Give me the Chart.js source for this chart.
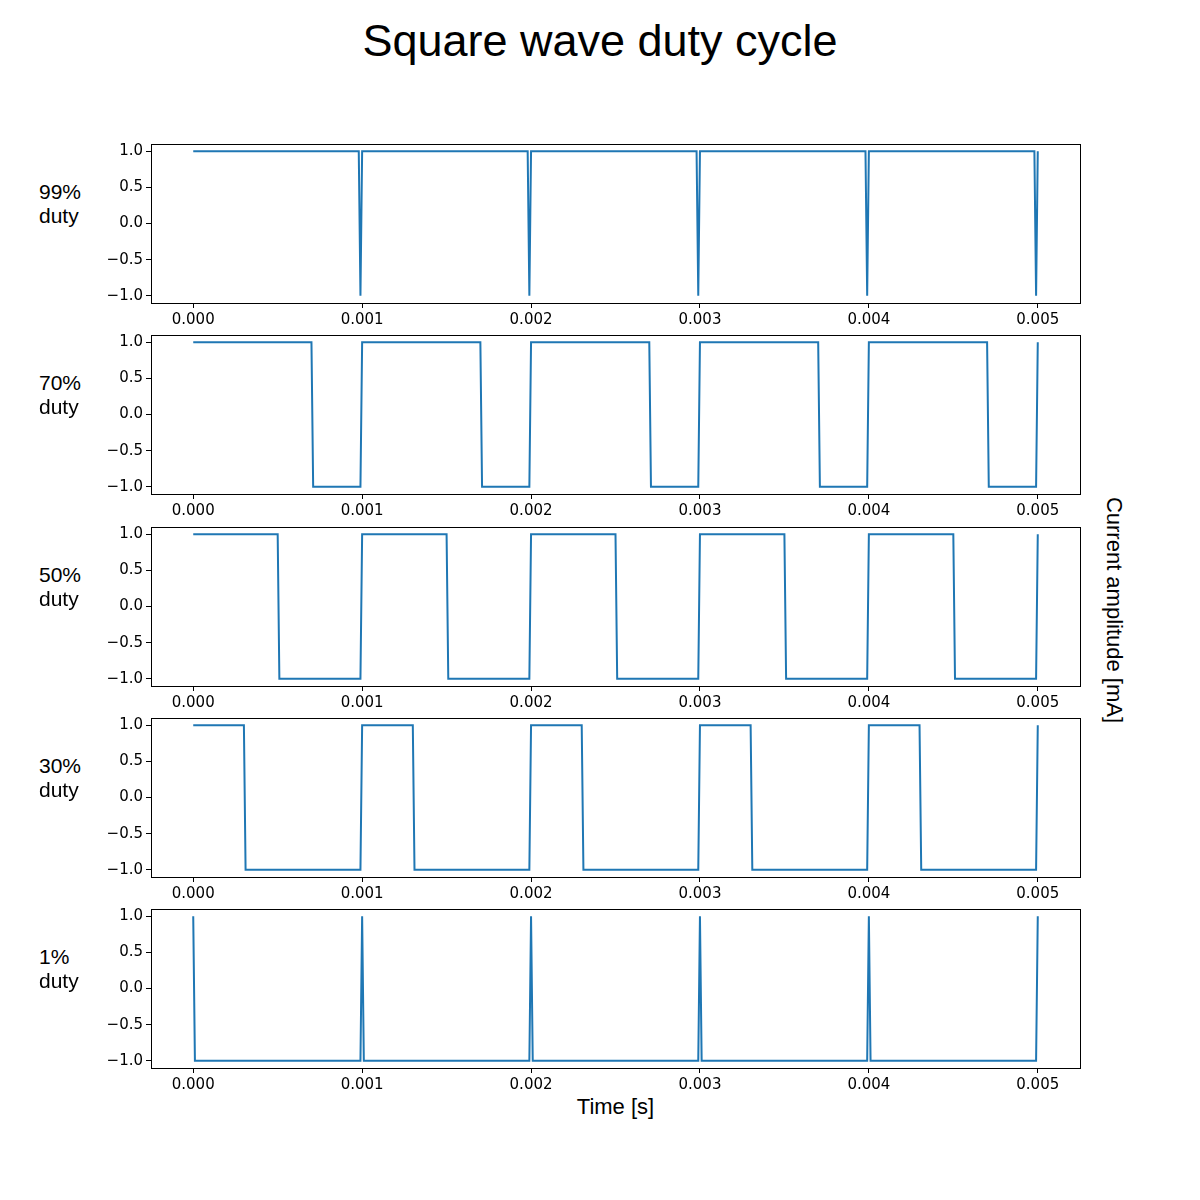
<!DOCTYPE html>
<html>
<head>
<meta charset="utf-8">
<script src="https://cdn.jsdelivr.net/npm/chart.js@4.4.1/dist/chart.umd.min.js"></script>
<style>
    body { margin: 0; background: #fff; }
    #page { position: relative; width: 1200px; height: 1200px; overflow: hidden; font-family: "Liberation Sans", Arial, sans-serif; color: #000; }
    #page canvas { position: absolute; left: 0; }
    .txt { position: absolute; white-space: nowrap; line-height: 1; }
</style>
</head>
<body>
<div id="page">
    <div class="txt" id="title" style="left:0;width:1200px;text-align:center;top:18px;font-size:45px;">Square wave duty cycle</div>
    <div class="txt" style="left:151px;width:929px;text-align:center;top:1096px;font-size:22px;">Time [s]</div>
    <div class="txt" style="left:1114px;top:610px;font-size:22px;transform:translate(-50%,-50%) rotate(90deg);">Current amplitude [mA]</div>
</div>
<script>
// time axis ticks and amplitude ticks
const timeTicks = [0, 0.001, 0.002, 0.003, 0.004, 0.005];
const ampTicks = [-1, -0.5, 0, 0.5, 1];

// panel labels, top to bottom
const dutyLabels = ['99%', '70%', '50%', '30%', '1%'];

// corner points of each trace (time in s, amplitude in mA)
const duty99Time = [0, 0.00098, 0.00099, 0.00100, 0.00198, 0.00199, 0.00200, 0.00298, 0.00299, 0.00300, 0.00398, 0.00399, 0.00400, 0.00498, 0.00499, 0.00500];
const duty99Amp  = [1, 1, -1, 1, 1, -1, 1, 1, -1, 1, 1, -1, 1, 1, -1, 1];

const duty70Time = [0, 0.00070, 0.00071, 0.00099, 0.00100, 0.00170, 0.00171, 0.00199, 0.00200, 0.00270, 0.00271, 0.00299, 0.00300, 0.00370, 0.00371, 0.00399, 0.00400, 0.00470, 0.00471, 0.00499, 0.00500];
const duty70Amp  = [1, 1, -1, -1, 1, 1, -1, -1, 1, 1, -1, -1, 1, 1, -1, -1, 1, 1, -1, -1, 1];

const duty50Time = [0, 0.00050, 0.00051, 0.00099, 0.00100, 0.00150, 0.00151, 0.00199, 0.00200, 0.00250, 0.00251, 0.00299, 0.00300, 0.00350, 0.00351, 0.00399, 0.00400, 0.00450, 0.00451, 0.00499, 0.00500];
const duty50Amp  = [1, 1, -1, -1, 1, 1, -1, -1, 1, 1, -1, -1, 1, 1, -1, -1, 1, 1, -1, -1, 1];

const duty30Time = [0, 0.00030, 0.00031, 0.00099, 0.00100, 0.00130, 0.00131, 0.00199, 0.00200, 0.00230, 0.00231, 0.00299, 0.00300, 0.00330, 0.00331, 0.00399, 0.00400, 0.00430, 0.00431, 0.00499, 0.00500];
const duty30Amp  = [1, 1, -1, -1, 1, 1, -1, -1, 1, 1, -1, -1, 1, 1, -1, -1, 1, 1, -1, -1, 1];

const duty01Time = [0, 0.00001, 0.00099, 0.00100, 0.00101, 0.00199, 0.00200, 0.00201, 0.00299, 0.00300, 0.00301, 0.00399, 0.00400, 0.00401, 0.00499, 0.00500];
const duty01Amp  = [1, -1, -1, 1, -1, -1, 1, -1, -1, 1, -1, -1, 1, -1, -1, 1];

const traces = [
    [duty99Time, duty99Amp],
    [duty70Time, duty70Amp],
    [duty50Time, duty50Amp],
    [duty30Time, duty30Amp],
    [duty01Time, duty01Amp]
];

const panelTops = [144, 335, 527, 718, 909];
const panelHeight = 159;
const padTop = 10;
const xAxisHeight = 40;

// matplotlib-style full frame around the plot area
const boxPlugin = {
    id: 'box',
    afterDraw(chart) {
        const a = chart.chartArea;
        const ctx = chart.ctx;
        ctx.save();
        ctx.strokeStyle = '#000';
        ctx.lineWidth = 1;
        ctx.strokeRect(Math.round(a.left) + 0.5, Math.round(a.top) + 0.5,
            Math.round(a.right - a.left), Math.round(a.bottom - a.top));
        ctx.restore();
    }
};

const fmt = (v, d) => (v < 0 ? '\u2212' : '') + Math.abs(v).toFixed(d);

const page = document.getElementById('page');

traces.forEach(([times, amps], i) => {
    const top = panelTops[i];

    const l1 = document.createElement('div');
    l1.className = 'txt';
    l1.style.cssText = `left:39px;top:${top + 48 - 11}px;font-size:21px;`;
    l1.textContent = dutyLabels[i];
    page.appendChild(l1);
    const l2 = document.createElement('div');
    l2.className = 'txt';
    l2.style.cssText = `left:39px;top:${top + 72 - 11}px;font-size:21px;`;
    l2.textContent = 'duty';
    page.appendChild(l2);

    const canvas = document.createElement('canvas');
    canvas.width = 1200;
    canvas.height = panelHeight + padTop + xAxisHeight;
    canvas.style.top = (top - padTop) + 'px';
    page.appendChild(canvas);

    new Chart(canvas, {
        type: 'line',
        data: {
            datasets: [{
                data: times.map((t, k) => ({ x: t, y: amps[k] })),
                borderColor: '#1f77b4',
                borderWidth: 2,
                pointRadius: 0,
                tension: 0,
                fill: false
            }]
        },
        options: {
            responsive: false,
            animation: false,
            devicePixelRatio: 1,
            layout: { padding: { left: 0, right: 120, top: padTop, bottom: 0 } },
            plugins: { legend: { display: false }, tooltip: { enabled: false } },
            scales: {
                x: {
                    type: 'linear',
                    min: -0.00025,
                    max: 0.00525,
                    afterBuildTicks: (s) => { s.ticks = timeTicks.map(v => ({ value: v })); },
                    afterFit: (s) => {
                        s.height = xAxisHeight;
                        s.paddingLeft = 0;
                        s.paddingRight = 0;
                    },
                    grid: { drawOnChartArea: false, drawTicks: true, tickLength: 5, color: '#000' },
                    border: { display: true, color: '#000' },
                    ticks: {
                        padding: 3,
                        maxRotation: 0,
                        autoSkip: false,
                        color: '#000',
                        font: { family: 'DejaVu Sans', size: 15 },
                        callback: (v) => fmt(v, 3)
                    }
                },
                y: {
                    min: -1.1,
                    max: 1.1,
                    afterBuildTicks: (s) => { s.ticks = ampTicks.map(v => ({ value: v })); },
                    afterFit: (s) => {
                        s.width = 151;
                        s.paddingTop = 0;
                        s.paddingBottom = 0;
                    },
                    grid: { drawOnChartArea: false, drawTicks: true, tickLength: 5, color: '#000' },
                    border: { display: true, color: '#000' },
                    ticks: {
                        padding: 3,
                        autoSkip: false,
                        color: '#000',
                        font: { family: 'DejaVu Sans', size: 15 },
                        callback: (v) => fmt(v, 1)
                    }
                }
            }
        },
        plugins: [boxPlugin]
    });
});
</script>
</body>
</html>
